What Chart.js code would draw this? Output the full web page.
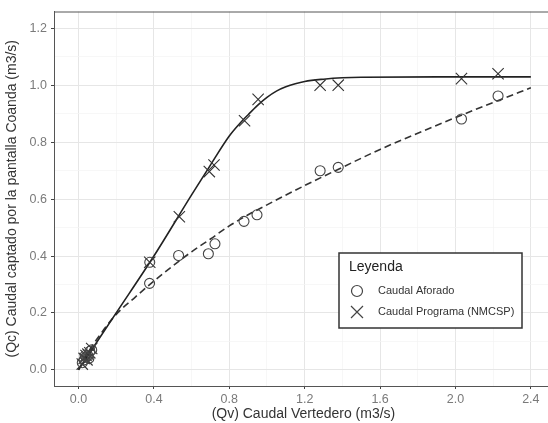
<!DOCTYPE html>
<html>
<head>
<meta charset="utf-8">
<script src="https://cdn.jsdelivr.net/npm/chart.js@4.4.0/dist/chart.umd.min.js"></script>
<style>
  html, body { margin: 0; padding: 0; background: #fff; overflow: hidden; }
</style>
</head>
<body>
<canvas id="chart" width="562" height="423"></canvas>
<script>
// tick positions (labels shown on every second one)
const xTicks = [0, 0.2, 0.4, 0.6, 0.8, 1.0, 1.2, 1.4, 1.6, 1.8, 2.0, 2.2, 2.4];
const yTicks = [0, 0.1, 0.2, 0.3, 0.4, 0.5, 0.6, 0.7, 0.8, 0.9, 1.0, 1.1, 1.2];

// Caudal Aforado (circles)
const aforadoX = [0.02, 0.03, 0.035, 0.04, 0.05, 0.055, 0.06, 0.07, 0.378, 0.377, 0.531, 0.689, 0.724, 0.878, 0.947, 1.282, 1.378, 2.032, 2.226];
const aforadoY = [0.025, 0.035, 0.05, 0.045, 0.05, 0.04, 0.065, 0.07, 0.378, 0.304, 0.402, 0.408, 0.443, 0.522, 0.545, 0.700, 0.712, 0.882, 0.963];

// Caudal Programa (NMCSP) (crosses)
const programaX = [0.02, 0.03, 0.04, 0.045, 0.05, 0.06, 0.07, 0.378, 0.535, 0.694, 0.719, 0.881, 0.953, 1.282, 1.378, 2.032, 2.226];
const programaY = [0.02, 0.04, 0.05, 0.035, 0.055, 0.06, 0.075, 0.378, 0.538, 0.697, 0.720, 0.876, 0.951, 1.001, 1.001, 1.024, 1.041];

// fitted curves
const curvaProgramaX = [0, 0.2, 0.4, 0.6, 0.7, 0.8, 0.85, 0.9, 0.95, 1.0, 1.05, 1.1, 1.15, 1.2, 1.3, 1.4, 1.5, 2.0, 2.4];
const curvaProgramaY = [0, 0.2, 0.4, 0.615, 0.72, 0.822, 0.862, 0.897, 0.93, 0.958, 0.98, 0.995, 1.006, 1.014, 1.022, 1.027, 1.029, 1.03, 1.03];
const curvaAforadoX = [0, 0.05, 0.1, 0.2, 0.3, 0.4, 0.5, 0.6, 0.7, 0.8, 0.9, 1.0, 1.2, 1.4, 1.6, 1.8, 2.0, 2.2, 2.4];
const curvaAforadoY = [0, 0.06, 0.11, 0.195, 0.255, 0.312, 0.365, 0.415, 0.46, 0.506, 0.545, 0.58, 0.648, 0.712, 0.775, 0.832, 0.887, 0.94, 0.992];

const pts = (xs, ys) => xs.map((x, i) => ({ x: x, y: ys[i] }));

const fontFam = "'Liberation Sans', Arial, sans-serif";

const marcoYLeyenda = {
  id: 'marcoYLeyenda',
  afterDraw(chart) {
    const ctx = chart.ctx;
    const a = chart.chartArea;
    ctx.save();
    // top border of the panel
    ctx.strokeStyle = '#555';
    ctx.lineWidth = 1;
    ctx.beginPath();
    ctx.moveTo(a.left, a.top + 0.5);
    ctx.lineTo(a.right, a.top + 0.5);
    ctx.stroke();

    // legend box
    const bx = 339, by = 253, bw = 183, bh = 75;
    ctx.fillStyle = '#fff';
    ctx.fillRect(bx, by, bw, bh);
    ctx.strokeStyle = '#333';
    ctx.lineWidth = 1.5;
    ctx.strokeRect(bx, by, bw, bh);

    ctx.fillStyle = '#222';
    ctx.textBaseline = 'middle';
    ctx.font = '14px ' + fontFam;
    ctx.fillText('Leyenda', 349, 267);

    ctx.font = '11px ' + fontFam;
    ctx.fillStyle = '#333';
    ctx.fillText('Caudal Aforado', 378, 291);
    ctx.fillText('Caudal Programa (NMCSP)', 378, 312);

    ctx.strokeStyle = '#444';
    ctx.lineWidth = 1.2;
    ctx.beginPath();
    ctx.arc(357, 291, 5.5, 0, Math.PI * 2);
    ctx.stroke();
    const d = 6;
    ctx.beginPath();
    ctx.moveTo(357 - d, 312 - d);
    ctx.lineTo(357 + d, 312 + d);
    ctx.moveTo(357 + d, 312 - d);
    ctx.lineTo(357 - d, 312 + d);
    ctx.stroke();
    ctx.restore();
  }
};

const esMayor = (v, paso) => Math.abs(Math.round(v / paso) * paso - v) < 1e-6;

new Chart(document.getElementById('chart').getContext('2d'), {
  type: 'scatter',
  data: {
    datasets: [
      {
        label: 'Caudal Aforado',
        data: pts(aforadoX, aforadoY),
        pointStyle: 'circle',
        pointRadius: 5,
        backgroundColor: 'rgba(0,0,0,0)',
        borderColor: '#444',
        pointBorderWidth: 1.1
      },
      {
        label: 'Caudal Programa (NMCSP)',
        data: pts(programaX, programaY),
        pointStyle: 'crossRot',
        pointRadius: 8,
        borderColor: '#333',
        pointBorderWidth: 1.1
      },
      {
        label: 'Ajuste Programa',
        data: pts(curvaProgramaX, curvaProgramaY),
        showLine: true,
        pointRadius: 0,
        borderColor: '#222',
        borderWidth: 1.6,
        cubicInterpolationMode: 'monotone'
      },
      {
        label: 'Ajuste Aforado',
        data: pts(curvaAforadoX, curvaAforadoY),
        showLine: true,
        pointRadius: 0,
        borderColor: '#333',
        borderWidth: 1.6,
        borderDash: [7, 4],
        cubicInterpolationMode: 'monotone'
      }
    ]
  },
  options: {
    responsive: false,
    animation: false,
    events: [],
    layout: { padding: { left: 0, top: 6, right: 6, bottom: 0 } },
    plugins: { legend: { display: false }, tooltip: { enabled: false } },
    scales: {
      x: {
        type: 'linear',
        min: -0.13,
        max: 2.517,
        afterBuildTicks: s => { s.ticks = xTicks.map(v => ({ value: v })); },
        afterFit: s => { s.height = 37; },
        grid: {
          color: c => esMayor(c.tick.value, 0.4) ? '#e6e6e6' : '#f3f3f3',
          lineWidth: c => esMayor(c.tick.value, 0.4) ? 1 : 0.7,
          tickColor: c => esMayor(c.tick.value, 0.4) ? '#444' : 'rgba(0,0,0,0)',
          tickLength: 3
        },
        border: { color: '#555', width: 1 },
        ticks: {
          autoSkip: false,
          maxRotation: 0,
          padding: 3,
          color: '#7a7a7a',
          font: { family: fontFam, size: 12.5 },
          callback: v => esMayor(v, 0.4) ? v.toFixed(1) : ''
        },
        title: {
          display: true,
          text: '(Qv) Caudal Vertedero (m3/s)',
          color: '#333',
          font: { family: fontFam, size: 14 },
          padding: { top: 0, bottom: 0 }
        }
      },
      y: {
        type: 'linear',
        min: -0.057,
        max: 1.26,
        afterBuildTicks: s => { s.ticks = yTicks.map(v => ({ value: v })); },
        afterFit: s => { s.width = 54; },
        grid: {
          color: c => esMayor(c.tick.value, 0.2) ? '#e6e6e6' : '#f3f3f3',
          lineWidth: c => esMayor(c.tick.value, 0.2) ? 1 : 0.7,
          tickColor: c => esMayor(c.tick.value, 0.2) ? '#444' : 'rgba(0,0,0,0)',
          tickLength: 3
        },
        border: { color: '#555', width: 1 },
        ticks: {
          autoSkip: false,
          padding: 4,
          color: '#7a7a7a',
          font: { family: fontFam, size: 12.5 },
          callback: v => esMayor(v, 0.2) ? v.toFixed(1) : ''
        },
        title: {
          display: true,
          text: '(Qc) Caudal captado por la pantalla Coanda (m3/s)',
          color: '#333',
          font: { family: fontFam, size: 14 },
          padding: { top: 4, bottom: 0 }
        }
      }
    }
  },
  plugins: [marcoYLeyenda]
});
</script>
</body>
</html>
